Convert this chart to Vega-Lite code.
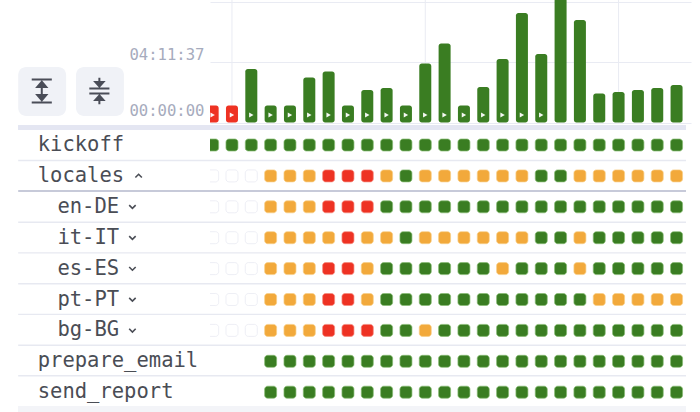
{"$schema":"https://vega.github.io/schema/vega-lite/v6.json","width":481,"height":412,"autosize":"none","padding":{"left":210,"right":9,"top":0,"bottom":0},"background":"#ffffff","config":{"view":{"stroke":null}},"resolve":{"scale":{"y":"independent","color":"independent","stroke":"independent"}},
"datasets":{
"bars":[{"i":0,"sec":4242,"st":"failed","run":true},{"i":1,"sec":4242,"st":"failed","run":true},{"i":2,"sec":13350,"st":"success","run":true},{"i":3,"sec":4242,"st":"success","run":true},{"i":4,"sec":4242,"st":"success","run":true},{"i":5,"sec":11229,"st":"success","run":true},{"i":6,"sec":12726,"st":"success","run":true},{"i":7,"sec":4242,"st":"success","run":true},{"i":8,"sec":8110,"st":"success","run":true},{"i":9,"sec":8609,"st":"success","run":true},{"i":10,"sec":4242,"st":"success","run":true},{"i":11,"sec":14722,"st":"success","run":true},{"i":12,"sec":19713,"st":"success","run":true},{"i":13,"sec":4242,"st":"success","run":true},{"i":14,"sec":8858,"st":"success","run":true},{"i":15,"sec":15845,"st":"success","run":true},{"i":16,"sec":27324,"st":"success","run":true},{"i":17,"sec":17093,"st":"success","run":true},{"i":18,"sec":31000,"st":"success","run":false},{"i":19,"sec":25577,"st":"success","run":false},{"i":20,"sec":7236,"st":"success","run":false},{"i":21,"sec":7611,"st":"success","run":false},{"i":22,"sec":8110,"st":"success","run":false},{"i":23,"sec":8609,"st":"success","run":false},{"i":24,"sec":9357,"st":"success","run":false}],
"vgrid":[{"i":1},{"i":11},{"i":21}],
"rows":[{"r":0,"name":"kickoff","level":0,"fold":"none"},{"r":1,"name":"locales","level":0,"fold":"open"},{"r":2,"name":"en-DE","level":1,"fold":"closed"},{"r":3,"name":"it-IT","level":1,"fold":"closed"},{"r":4,"name":"es-ES","level":1,"fold":"closed"},{"r":5,"name":"pt-PT","level":1,"fold":"closed"},{"r":6,"name":"bg-BG","level":1,"fold":"closed"},{"r":7,"name":"prepare_email","level":0,"fold":"none"},{"r":8,"name":"send_report","level":0,"fold":"none"}],
"seps":[{"e":0.5,"k":"a"},{"e":1.49,"k":"b"},{"e":2.5,"k":"a"},{"e":3.49,"k":"a"},{"e":4.49,"k":"a"},{"e":5.48,"k":"a"},{"e":6.48,"k":"a"},{"e":7.47,"k":"a"}],
"cells":[
{"r":0,"i":0,"s":"g"},{"r":0,"i":1,"s":"g"},{"r":0,"i":2,"s":"g"},{"r":0,"i":3,"s":"g"},{"r":0,"i":4,"s":"g"},{"r":0,"i":5,"s":"g"},{"r":0,"i":6,"s":"g"},{"r":0,"i":7,"s":"g"},{"r":0,"i":8,"s":"g"},{"r":0,"i":9,"s":"g"},{"r":0,"i":10,"s":"g"},{"r":0,"i":11,"s":"g"},{"r":0,"i":12,"s":"g"},{"r":0,"i":13,"s":"g"},{"r":0,"i":14,"s":"g"},{"r":0,"i":15,"s":"g"},{"r":0,"i":16,"s":"g"},{"r":0,"i":17,"s":"g"},{"r":0,"i":18,"s":"g"},{"r":0,"i":19,"s":"g"},{"r":0,"i":20,"s":"g"},{"r":0,"i":21,"s":"g"},{"r":0,"i":22,"s":"g"},{"r":0,"i":23,"s":"g"},{"r":0,"i":24,"s":"g"},
{"r":1,"i":0,"s":"e"},{"r":1,"i":1,"s":"e"},{"r":1,"i":2,"s":"e"},{"r":1,"i":3,"s":"o"},{"r":1,"i":4,"s":"o"},{"r":1,"i":5,"s":"o"},{"r":1,"i":6,"s":"r"},{"r":1,"i":7,"s":"r"},{"r":1,"i":8,"s":"r"},{"r":1,"i":9,"s":"o"},{"r":1,"i":10,"s":"g"},{"r":1,"i":11,"s":"o"},{"r":1,"i":12,"s":"o"},{"r":1,"i":13,"s":"o"},{"r":1,"i":14,"s":"o"},{"r":1,"i":15,"s":"o"},{"r":1,"i":16,"s":"o"},{"r":1,"i":17,"s":"g"},{"r":1,"i":18,"s":"g"},{"r":1,"i":19,"s":"o"},{"r":1,"i":20,"s":"o"},{"r":1,"i":21,"s":"o"},{"r":1,"i":22,"s":"o"},{"r":1,"i":23,"s":"o"},{"r":1,"i":24,"s":"o"},
{"r":2,"i":0,"s":"e"},{"r":2,"i":1,"s":"e"},{"r":2,"i":2,"s":"e"},{"r":2,"i":3,"s":"o"},{"r":2,"i":4,"s":"o"},{"r":2,"i":5,"s":"o"},{"r":2,"i":6,"s":"r"},{"r":2,"i":7,"s":"r"},{"r":2,"i":8,"s":"r"},{"r":2,"i":9,"s":"g"},{"r":2,"i":10,"s":"g"},{"r":2,"i":11,"s":"g"},{"r":2,"i":12,"s":"g"},{"r":2,"i":13,"s":"g"},{"r":2,"i":14,"s":"g"},{"r":2,"i":15,"s":"g"},{"r":2,"i":16,"s":"g"},{"r":2,"i":17,"s":"g"},{"r":2,"i":18,"s":"g"},{"r":2,"i":19,"s":"g"},{"r":2,"i":20,"s":"g"},{"r":2,"i":21,"s":"g"},{"r":2,"i":22,"s":"g"},{"r":2,"i":23,"s":"g"},{"r":2,"i":24,"s":"g"},
{"r":3,"i":0,"s":"e"},{"r":3,"i":1,"s":"e"},{"r":3,"i":2,"s":"e"},{"r":3,"i":3,"s":"o"},{"r":3,"i":4,"s":"o"},{"r":3,"i":5,"s":"o"},{"r":3,"i":6,"s":"o"},{"r":3,"i":7,"s":"r"},{"r":3,"i":8,"s":"o"},{"r":3,"i":9,"s":"o"},{"r":3,"i":10,"s":"g"},{"r":3,"i":11,"s":"o"},{"r":3,"i":12,"s":"o"},{"r":3,"i":13,"s":"o"},{"r":3,"i":14,"s":"o"},{"r":3,"i":15,"s":"o"},{"r":3,"i":16,"s":"o"},{"r":3,"i":17,"s":"g"},{"r":3,"i":18,"s":"g"},{"r":3,"i":19,"s":"o"},{"r":3,"i":20,"s":"g"},{"r":3,"i":21,"s":"g"},{"r":3,"i":22,"s":"g"},{"r":3,"i":23,"s":"g"},{"r":3,"i":24,"s":"g"},
{"r":4,"i":0,"s":"e"},{"r":4,"i":1,"s":"e"},{"r":4,"i":2,"s":"e"},{"r":4,"i":3,"s":"o"},{"r":4,"i":4,"s":"o"},{"r":4,"i":5,"s":"o"},{"r":4,"i":6,"s":"r"},{"r":4,"i":7,"s":"r"},{"r":4,"i":8,"s":"o"},{"r":4,"i":9,"s":"g"},{"r":4,"i":10,"s":"g"},{"r":4,"i":11,"s":"g"},{"r":4,"i":12,"s":"g"},{"r":4,"i":13,"s":"g"},{"r":4,"i":14,"s":"g"},{"r":4,"i":15,"s":"o"},{"r":4,"i":16,"s":"g"},{"r":4,"i":17,"s":"g"},{"r":4,"i":18,"s":"g"},{"r":4,"i":19,"s":"o"},{"r":4,"i":20,"s":"g"},{"r":4,"i":21,"s":"g"},{"r":4,"i":22,"s":"g"},{"r":4,"i":23,"s":"g"},{"r":4,"i":24,"s":"g"},
{"r":5,"i":0,"s":"e"},{"r":5,"i":1,"s":"e"},{"r":5,"i":2,"s":"e"},{"r":5,"i":3,"s":"o"},{"r":5,"i":4,"s":"o"},{"r":5,"i":5,"s":"o"},{"r":5,"i":6,"s":"r"},{"r":5,"i":7,"s":"r"},{"r":5,"i":8,"s":"o"},{"r":5,"i":9,"s":"g"},{"r":5,"i":10,"s":"g"},{"r":5,"i":11,"s":"g"},{"r":5,"i":12,"s":"g"},{"r":5,"i":13,"s":"g"},{"r":5,"i":14,"s":"g"},{"r":5,"i":15,"s":"g"},{"r":5,"i":16,"s":"g"},{"r":5,"i":17,"s":"g"},{"r":5,"i":18,"s":"g"},{"r":5,"i":19,"s":"g"},{"r":5,"i":20,"s":"o"},{"r":5,"i":21,"s":"o"},{"r":5,"i":22,"s":"o"},{"r":5,"i":23,"s":"o"},{"r":5,"i":24,"s":"o"},
{"r":6,"i":0,"s":"e"},{"r":6,"i":1,"s":"e"},{"r":6,"i":2,"s":"e"},{"r":6,"i":3,"s":"o"},{"r":6,"i":4,"s":"o"},{"r":6,"i":5,"s":"o"},{"r":6,"i":6,"s":"r"},{"r":6,"i":7,"s":"r"},{"r":6,"i":8,"s":"r"},{"r":6,"i":9,"s":"g"},{"r":6,"i":10,"s":"g"},{"r":6,"i":11,"s":"o"},{"r":6,"i":12,"s":"g"},{"r":6,"i":13,"s":"g"},{"r":6,"i":14,"s":"g"},{"r":6,"i":15,"s":"g"},{"r":6,"i":16,"s":"g"},{"r":6,"i":17,"s":"g"},{"r":6,"i":18,"s":"g"},{"r":6,"i":19,"s":"g"},{"r":6,"i":20,"s":"g"},{"r":6,"i":21,"s":"g"},{"r":6,"i":22,"s":"g"},{"r":6,"i":23,"s":"g"},{"r":6,"i":24,"s":"g"},
{"r":7,"i":3,"s":"g"},{"r":7,"i":4,"s":"g"},{"r":7,"i":5,"s":"g"},{"r":7,"i":6,"s":"g"},{"r":7,"i":7,"s":"g"},{"r":7,"i":8,"s":"g"},{"r":7,"i":9,"s":"g"},{"r":7,"i":10,"s":"g"},{"r":7,"i":11,"s":"g"},{"r":7,"i":12,"s":"g"},{"r":7,"i":13,"s":"g"},{"r":7,"i":14,"s":"g"},{"r":7,"i":15,"s":"g"},{"r":7,"i":16,"s":"g"},{"r":7,"i":17,"s":"g"},{"r":7,"i":18,"s":"g"},{"r":7,"i":19,"s":"g"},{"r":7,"i":20,"s":"g"},{"r":7,"i":21,"s":"g"},{"r":7,"i":22,"s":"g"},{"r":7,"i":23,"s":"g"},{"r":7,"i":24,"s":"g"},
{"r":8,"i":3,"s":"g"},{"r":8,"i":4,"s":"g"},{"r":8,"i":5,"s":"g"},{"r":8,"i":6,"s":"g"},{"r":8,"i":7,"s":"g"},{"r":8,"i":8,"s":"g"},{"r":8,"i":9,"s":"g"},{"r":8,"i":10,"s":"g"},{"r":8,"i":11,"s":"g"},{"r":8,"i":12,"s":"g"},{"r":8,"i":13,"s":"g"},{"r":8,"i":14,"s":"g"},{"r":8,"i":15,"s":"g"},{"r":8,"i":16,"s":"g"},{"r":8,"i":17,"s":"g"},{"r":8,"i":18,"s":"g"},{"r":8,"i":19,"s":"g"},{"r":8,"i":20,"s":"g"},{"r":8,"i":21,"s":"g"},{"r":8,"i":22,"s":"g"},{"r":8,"i":23,"s":"g"},{"r":8,"i":24,"s":"g"}
]},
"data":{"name":"bars"},
"layer":[
{"data":{"name":"vgrid"},"mark":{"type":"rule","color":"#e9ebf3","strokeWidth":1},"encoding":{"x":{"field":"i","type":"quantitative","axis":null,"scale":{"domain":[0.1216,24.488]}},"y":{"datum":0,"type":"quantitative","axis":null,"scale":{"domain":[0,30194],"range":[122.5,1.5]}},"y2":{"datum":32000}}},
{"mark":{"type":"bar","width":12,"cornerRadius":2.5,"clip":true},"encoding":{"x":{"field":"i","type":"quantitative","axis":null,"scale":{"domain":[0.1216,24.488]}},"y":{"field":"sec","type":"quantitative","scale":{"domain":[0,30194],"range":[122.5,1.5]},"axis":{"title":null,"values":[0,15097,30194],"domain":false,"ticks":false,"labelFont":"DejaVu Sans Mono","labelFontSize":15.6,"labelColor":"#a6abbd","labelPadding":6,"labelBaseline":"bottom","labelFlush":false,"labelOverlap":false,"labelBound":false,"labelOffset":{"condition":{"test":"datum.value==0","value":-4},"value":0},"gridColor":"#e9ebf3","grid":true,"labelExpr":"datum.value==0?'00:00:00':datum.value==15097?'04:11:37':'08:23:14'"}},"y2":{"datum":0},"color":{"field":"st","type":"nominal","legend":null,"scale":{"domain":["success","failed"],"range":["#3a7d22","#ee3223"]}}}},
{"transform":[{"filter":"datum.run"}],"mark":{"type":"point","shape":"triangle-right","filled":true,"color":"#ffffff","size":26,"opacity":0.95,"clip":true},"encoding":{"x":{"field":"i","type":"quantitative","axis":null,"scale":{"domain":[0.1216,24.488]}},"y":{"datum":1870,"type":"quantitative","axis":null,"scale":{"domain":[0,30194],"range":[122.5,1.5]}}}},
{"mark":{"type":"rect","color":"#e4e6f2"},"encoding":{"x":{"datum":-10.06,"type":"quantitative","axis":null,"scale":{"domain":[0.1216,24.488]}},"x2":{"datum":24.488},"y":{"datum":-0.631,"type":"quantitative","axis":null,"scale":{"domain":[0,8],"range":[145,392.2]}},"y2":{"datum":-0.502}}},
{"mark":{"type":"rect","color":"#f3f4f8"},"encoding":{"x":{"datum":-10.06,"type":"quantitative","axis":null,"scale":{"domain":[0.1216,24.488]}},"x2":{"datum":24.488},"y":{"datum":8.45,"type":"quantitative","axis":null,"scale":{"domain":[0,8],"range":[145,392.2]}},"y2":{"datum":8.66}}},
{"data":{"name":"seps"},"mark":{"type":"rule","strokeWidth":1.4},"encoding":{"x":{"datum":-10.06,"type":"quantitative","axis":null,"scale":{"domain":[0.1216,24.488]}},"x2":{"datum":24.488},"y":{"field":"e","type":"quantitative","axis":null,"scale":{"domain":[0,8],"range":[145,392.2]}},"color":{"field":"k","type":"nominal","legend":null,"scale":{"domain":["a","b"],"range":["#e7e9f1","#b4b9cc"]}}}},
{"data":{"name":"cells"},"mark":{"type":"rect","width":12,"height":12,"cornerRadius":3,"strokeWidth":0.7,"clip":true},"encoding":{"x":{"field":"i","type":"quantitative","axis":null,"scale":{"domain":[0.1216,24.488]}},"y":{"field":"r","type":"quantitative","axis":null,"scale":{"domain":[0,8],"range":[145,392.2]}},"color":{"field":"s","type":"nominal","legend":null,"scale":{"domain":["g","o","r","e"],"range":["#3a7d22","#f2a93b","#ee3223","#ffffff"]}},"stroke":{"field":"s","type":"nominal","legend":null,"scale":{"domain":["g","o","r","e"],"range":["#86bb72","#f8cf86","#f58a7d","#e6e8f0"]}}}},
{"data":{"name":"rows"},"transform":[{"filter":"datum.level==0"}],"mark":{"type":"text","align":"left","baseline":"middle","font":"DejaVu Sans Mono","fontSize":20.5,"color":"#4a4d55"},"encoding":{"x":{"datum":-9.05,"type":"quantitative","axis":null,"scale":{"domain":[0.1216,24.488]}},"y":{"field":"r","type":"quantitative","axis":null,"scale":{"domain":[0,8],"range":[145,392.2]}},"text":{"field":"name"}}},
{"data":{"name":"rows"},"transform":[{"filter":"datum.level==1"}],"mark":{"type":"text","align":"left","baseline":"middle","font":"DejaVu Sans Mono","fontSize":20.5,"color":"#4a4d55"},"encoding":{"x":{"datum":-8.03,"type":"quantitative","axis":null,"scale":{"domain":[0.1216,24.488]}},"y":{"field":"r","type":"quantitative","axis":null,"scale":{"domain":[0,8],"range":[145,392.2]}},"text":{"field":"name"}}},
{"data":{"name":"rows"},"transform":[{"filter":"datum.fold=='closed'"}],"mark":{"type":"point","shape":"M-1,-0.5L0,0.5L1,-0.5","filled":false,"stroke":"#4a4d55","strokeWidth":1.6,"size":42,"opacity":1},"encoding":{"x":{"datum":-4.15,"type":"quantitative","axis":null,"scale":{"domain":[0.1216,24.488]}},"y":{"field":"r","type":"quantitative","axis":null,"scale":{"domain":[0,8],"range":[145,392.2]}}}},
{"data":{"name":"rows"},"transform":[{"filter":"datum.fold=='open'"}],"mark":{"type":"point","shape":"M-1,0.5L0,-0.5L1,0.5","filled":false,"stroke":"#4a4d55","strokeWidth":1.6,"size":42,"opacity":1},"encoding":{"x":{"datum":-3.83,"type":"quantitative","axis":null,"scale":{"domain":[0.1216,24.488]}},"y":{"field":"r","type":"quantitative","axis":null,"scale":{"domain":[0,8],"range":[145,392.2]}}}},
{"data":{"values":[{"button":"expand"}]},"mark":{"type":"rect","color":"#f0f2f7","cornerRadius":8},"encoding":{"x":{"datum":-10.06,"type":"quantitative","axis":null,"scale":{"domain":[0.1216,24.488]}},"x2":{"datum":-7.58},"y":{"datum":-2.524,"type":"quantitative","axis":null,"scale":{"domain":[0,8],"range":[145,392.2]}},"y2":{"datum":-0.9385}}},
{"data":{"values":[{"button":"collapse"}]},"mark":{"type":"rect","color":"#f0f2f7","cornerRadius":8},"encoding":{"x":{"datum":-7.07,"type":"quantitative","axis":null,"scale":{"domain":[0.1216,24.488]}},"x2":{"datum":-4.59},"y":{"datum":-2.524,"type":"quantitative","axis":null,"scale":{"domain":[0,8],"range":[145,392.2]}},"y2":{"datum":-0.9385}}},
{"data":{"values":[{"button":"expand"}]},"mark":{"type":"point","shape":"M-.67,-.77H.67M-.67,.77H.67M0,-.5V.5M0,-.62L.3,-.27H-.3ZM0,.62L.3,.27H-.3Z","filled":true,"color":"#4a4d58","stroke":"#4a4d58","strokeWidth":2,"size":900,"opacity":1},"encoding":{"x":{"datum":-8.84,"type":"quantitative","axis":null,"scale":{"domain":[0.1216,24.488]}},"y":{"datum":-1.748,"type":"quantitative","axis":null,"scale":{"domain":[0,8],"range":[145,392.2]}}}},
{"data":{"values":[{"button":"collapse"}]},"mark":{"type":"point","shape":"M-.67,-.16H.67M-.67,.16H.67M0,-.88V-.5M0,-.3L.27,-.6H-.27ZM0,.88V.5M0,.3L.27,.6H-.27Z","filled":true,"color":"#4a4d58","stroke":"#4a4d58","strokeWidth":2,"size":900,"opacity":1},"encoding":{"x":{"datum":-5.86,"type":"quantitative","axis":null,"scale":{"domain":[0.1216,24.488]}},"y":{"datum":-1.748,"type":"quantitative","axis":null,"scale":{"domain":[0,8],"range":[145,392.2]}}}}
]}
